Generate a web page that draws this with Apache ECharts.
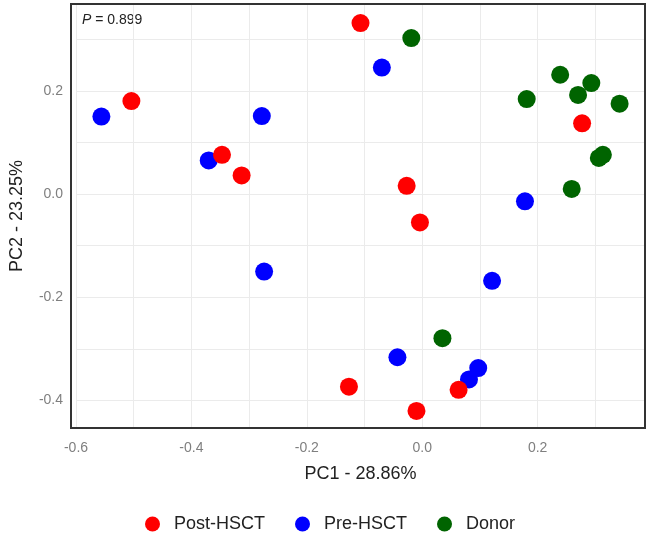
<!DOCTYPE html>
<html>
<head>
<meta charset="utf-8">
<script src="https://cdn.jsdelivr.net/npm/echarts@6/dist/echarts.min.js"></script>
<style>
  html, body { margin: 0; padding: 0; background: #fff; }
  #chart { width: 650px; height: 538px; }
</style>
</head>
<body>
<div id="chart"></div>
<script>
// PCA scores: [PC1, PC2]
const postHSCT = [
    [-0.504, 0.180], [-0.347, 0.076], [-0.313, 0.036], [-0.107, 0.331],
    [-0.127, -0.373], [0.277, 0.137], [-0.027, 0.016], [-0.004, -0.055],
    [0.063, -0.379], [-0.010, -0.420]
];
const preHSCT = [
    [-0.556, 0.150], [-0.278, 0.151], [-0.370, 0.065], [-0.274, -0.150],
    [-0.070, 0.245], [0.178, -0.014], [0.121, -0.168], [-0.043, -0.316],
    [0.097, -0.337], [0.081, -0.359]
];
const donor = [
    [-0.019, 0.302], [0.239, 0.231], [0.293, 0.215], [0.270, 0.192],
    [0.181, 0.184], [0.342, 0.175], [0.313, 0.076], [0.306, 0.070],
    [0.259, 0.010], [0.035, -0.279]
];
const groupNames = ['Post-HSCT', 'Pre-HSCT', 'Donor'];
const groupColors = ['#ff0000', '#0000ff', '#006400'];
const pValue = '0.899';

const chart = echarts.init(document.getElementById('chart'));

// only label the multiples of 0.2, grid lines stay at every 0.1
function tickLabel(v) {
    if (Math.abs(v * 5 - Math.round(v * 5)) > 1e-6) return '';
    return (Math.round(v * 10) / 10).toFixed(1);
}

const font = 'Liberation Sans, Arial, sans-serif';
const plot = { left: 71, right: 5, top: 4, bottom: 110 };

const axisCommon = {
    type: 'value',
    nameLocation: 'middle',
    nameTextStyle: { color: '#222', fontSize: 18, fontFamily: font },
    axisLine: { show: false },
    axisTick: { show: false },
    axisLabel: {
        color: '#7f7f7f',
        fontSize: 14,
        fontFamily: font,
        margin: 13,
        formatter: tickLabel
    },
    splitLine: { lineStyle: { color: '#ebebeb', width: 1 } }
};

const option = {
    backgroundColor: '#fff',
    animation: false,
    grid: plot,
    xAxis: Object.assign({}, axisCommon, {
        name: 'PC1 - 28.86%',
        nameGap: 37,
        min: -0.6,
        max: 0.386,
        interval: 0.1
    }),
    yAxis: Object.assign({}, axisCommon, {
        name: 'PC2 - 23.25%',
        nameGap: 50,
        min: -0.453,
        max: 0.368,
        splitNumber: 8
    }),
    legend: {
        data: groupNames,
        left: 140,
        top: 510,
        icon: 'circle',
        itemWidth: 15,
        itemHeight: 15,
        itemGap: 30,
        textStyle: { color: '#222', fontSize: 18, fontFamily: font, padding: [0, 0, 0, 9] }
    },
    graphic: [{
        // panel frame, drawn above the grid lines
        type: 'rect',
        z: 10,
        silent: true,
        shape: {
            x: plot.left,
            y: plot.top,
            width: 650 - plot.left - plot.right,
            height: 538 - plot.top - plot.bottom
        },
        style: { fill: 'none', stroke: '#333', lineWidth: 2 }
    }, {
        type: 'text',
        left: 82,
        top: 13,
        style: {
            text: '{i|P} = ' + pValue,
            fill: '#222',
            font: '14px ' + font,
            rich: { i: { fontStyle: 'italic', fontSize: 14, fontFamily: font, fill: '#222' } }
        }
    }],
    series: [
        { name: groupNames[0], type: 'scatter', data: postHSCT, z: 3 },
        { name: groupNames[1], type: 'scatter', data: preHSCT, z: 2 },
        { name: groupNames[2], type: 'scatter', data: donor, z: 2 }
    ].map((s, i) => Object.assign(s, {
        symbol: 'circle',
        symbolSize: 18,
        itemStyle: { color: groupColors[i], opacity: 1 }
    }))
};

chart.setOption(option);
</script>
</body>
</html>
